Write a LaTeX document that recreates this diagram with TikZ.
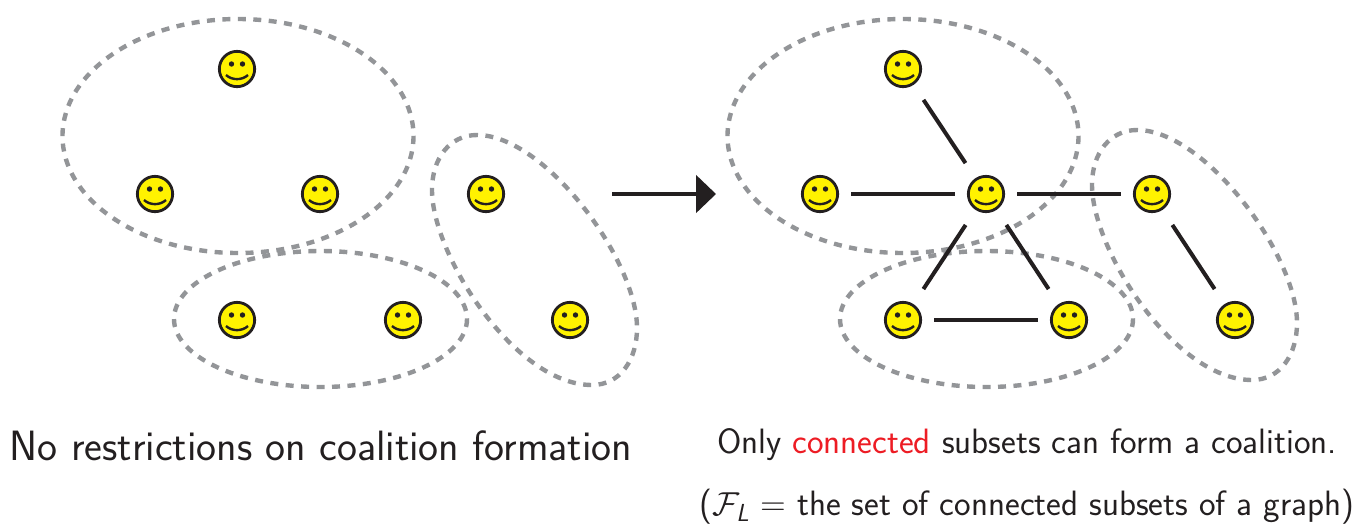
\documentclass[tikz,border=0pt]{standalone}
\usepackage{amsmath,amssymb}
\usepackage{xcolor}
\usetikzlibrary{arrows.meta,positioning,calc}
\renewcommand{\familydefault}{\sfdefault}
\definecolor{smileyyellow}{HTML}{FFF200}
\definecolor{inkblack}{HTML}{231F20}
\definecolor{coalitiongray}{HTML}{939598}
\definecolor{wordred}{HTML}{ED1C24}
\newcommand{\blobside}{(477,135) .. controls (450,135) and (432,158) .. (432,190) .. controls (432,255) and (515,385) .. (592,385) .. controls (620,385) and (637,360) .. (637,328) .. controls (637,260) and (545,135) .. (477,135) -- cycle}
\tikzset{
    smiley/.style={circle, draw=inkblack, line width=2.1pt, fill=smileyyellow, minimum size=26.5pt, inner sep=0pt,
        path picture={
            \fill[inkblack] ($(path picture bounding box.center)+(-5.5,-5)$) circle (2.7);
            \fill[inkblack] ($(path picture bounding box.center)+(5.5,-5)$) circle (2.7);
            \draw[inkblack, line width=1.8pt] ($(path picture bounding box.center)+(-11,6)$) .. controls ($(path picture bounding box.center)+(-5,11.5)$) and ($(path picture bounding box.center)+(5,11.5)$) .. ($(path picture bounding box.center)+(11,6)$);
        }},
    coalition/.style={draw=coalitiongray, line width=3.3pt, dash pattern=on 6pt off 5.6pt},
    hlink/.style={draw=inkblack, line width=3pt, shorten >=9pt, shorten <=9pt},
    dlink/.style={draw=inkblack, line width=3pt, shorten >=13.5pt, shorten <=13.5pt},
    caption/.style={inner sep=0pt, text=inkblack, font=\fontsize{26.4}{31}\selectfont}
}
\begin{document}
\begin{tikzpicture}[x=0.75pt, y=-0.75pt]
    \useasboundingbox (0,0) rectangle (1359,526);

    \draw[coalition] (238,136) ellipse [x radius=175.5, y radius=117];
    \draw[coalition] (320.5,319) ellipse [x radius=146.5, y radius=68];
    \draw[coalition] \blobside;
    \draw[coalition] (903,136) ellipse [x radius=175.5, y radius=117];
    \draw[coalition] (986.5,319) ellipse [x radius=146.5, y radius=68];
    \draw[coalition, shift={(660,-5)}] \blobside;

    \node[smiley] (l1) at (237,69) {};
    \node[smiley] (l2) at (155,194) {};
    \node[smiley] (l3) at (320,194) {};
    \node[smiley] (l4) at (486,194) {};
    \node[smiley] (l5) at (237,320) {};
    \node[smiley] (l6) at (403,320) {};
    \node[smiley] (l7) at (570,320) {};

    \node[smiley] (r1) at (903,69) {};
    \node[smiley] (r2) at (820,194) {};
    \node[smiley] (r3) at (986,194) {};
    \node[smiley] (r4) at (1152,194) {};
    \node[smiley] (r5) at (903,320) {};
    \node[smiley] (r6) at (1069,320) {};
    \node[smiley] (r7) at (1235,320) {};

    \draw[dlink] (r1) -- (r3);
    \draw[hlink] (r2) -- (r3);
    \draw[hlink] (r3) -- (r4);
    \draw[dlink] (r3) -- (r5);
    \draw[dlink] (r3) -- (r6);
    \draw[hlink] (r5) -- (r6);
    \draw[dlink] (r4) -- (r7);

    \coordinate (arrowstart) at (612,194);
    \coordinate (arrowend) at (716,194);
    \draw[inkblack, line width=3pt, -{Triangle[length=15pt,width=28pt]}] (arrowstart) -- (arrowend);

    \node[caption, font=\fontsize{31.8}{38}\selectfont] (leftcap) at (321,446) {No restrictions on coalition formation};
    \node[caption] (rightcap) at (1027,445) {Only \textcolor{wordred}{connected} subsets can form a coalition.};
    \node[caption] (rightsub) at (1027,507) {($\mathcal{F}_{\textsl{L}}$ = the set of connected subsets of a graph)};
\end{tikzpicture}
\end{document}
